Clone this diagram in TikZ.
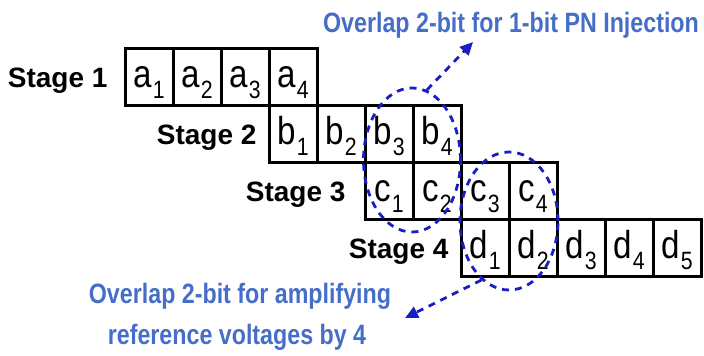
\documentclass[tikz,border=0pt]{standalone}
\usepackage{fontspec}
\setmainfont{Liberation Sans}
\newfontfamily\cellfont[FakeStretch=0.85]{Liberation Sans}
\newfontfamily\notefont[FakeStretch=0.83]{Liberation Sans}
\usetikzlibrary{arrows.meta,shapes.geometric}
\definecolor{noteblue}{RGB}{70,110,200}
\definecolor{ringblue}{RGB}{25,30,195}
\newcommand{\bitlbl}[2]{#1\kern1pt\raisebox{-11pt}{\fontsize{25}{25}\selectfont #2}}
\tikzset{
    bitbox/.style={draw, line width=3pt, outer sep=0pt, inner sep=0pt,
        minimum width=48pt, minimum height=57pt, anchor=north west,
        text height=30pt, text depth=9pt, font=\cellfont\fontsize{39}{39}\selectfont},
    stagelbl/.style={anchor=base east, font=\bfseries\fontsize{28}{28}\selectfont},
    notelbl/.style={anchor=base, text=noteblue, font=\notefont\bfseries\fontsize{28}{28}\selectfont},
    ring/.style={ellipse, draw=ringblue, line width=2.8pt, dash pattern=on 7pt off 6pt, inner sep=0pt},
    pointer/.style={draw=ringblue, line width=2.8pt, dash pattern=on 7pt off 6pt,
        -{Triangle[length=13pt,width=12pt]}}
}
\begin{document}
\begin{tikzpicture}[x=1pt,y=-1pt]
        \useasboundingbox (0,0) rectangle (704,356);

        % bit cells of the four stages
        \foreach \i in {1,...,4}
            \node [bitbox] (a\i) at ({125+48*(\i-1)},48) {\bitlbl{a}{\i}};
        \foreach \i in {1,...,4}
            \node [bitbox] (b\i) at ({125+48*(\i+2)},105) {\bitlbl{b}{\i}};
        \foreach \i in {1,...,4}
            \node [bitbox] (c\i) at ({125+48*(\i+4)},162) {\bitlbl{c}{\i}};
        \foreach \i in {1,...,5}
            \node [bitbox] (d\i) at ({125+48*(\i+6)},219) {\bitlbl{d}{\i}};

        \node [stagelbl] (s1) at (111,87) {Stage 1};
        \node [stagelbl] (s2) at (260,144) {Stage 2};
        \node [stagelbl] (s3) at (349,201) {Stage 3};
        \node [stagelbl] (s4) at (452,258) {Stage 4};

        % overlaps
        \node [ring, minimum width=97pt, minimum height=144pt] (ring1) at (412,160) {};
        \node [ring, minimum width=98pt, minimum height=138pt] (ring2) at (509,221) {};

        \node [notelbl] (topnote) at (511,32) {Overlap 2-bit for 1-bit PN Injection};
        \node [notelbl] (lownote1) at (240,303) {Overlap 2-bit for amplifying};
        \node [notelbl] (lownote2) at (237,344) {reference voltages by 4};

        \coordinate (tip1) at (473,42);
        \coordinate (tip2) at (405,318);
        \draw [pointer] (ring1.78) -- (tip1);
        \draw [pointer] (ring2.245) -- (tip2);
\end{tikzpicture}
\end{document}
